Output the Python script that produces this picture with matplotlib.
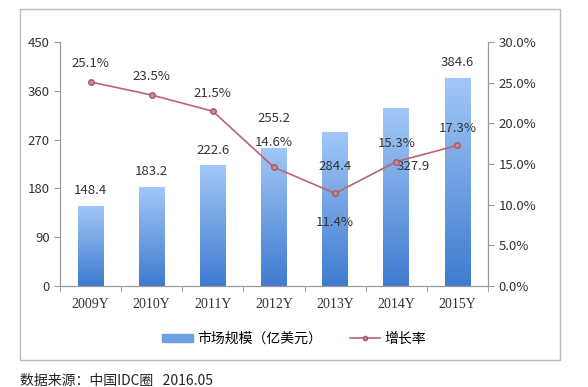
import numpy as np
import matplotlib.pyplot as plt
from matplotlib.patches import Rectangle
from matplotlib.lines import Line2D
from matplotlib.colors import LinearSegmentedColormap

plt.rcParams["font.family"] = ["Noto Sans CJK SC", "DejaVu Sans"]

years = ["2009Y", "2010Y", "2011Y", "2012Y", "2013Y", "2014Y", "2015Y"]
market = [148.4, 183.2, 222.6, 255.2, 284.4, 327.9, 384.6]
growth = [25.1, 23.5, 21.5, 14.6, 11.4, 15.3, 17.3]

# ラベルのずらし量 (points)
bar_lab_off = [(0, 11), (0, 11), (0, 11), (0, 21), (0, -25), (12, -42), (0, 11)]
pct_lab_off = [(0, 13.5), (0, 13), (0, 13), (0, 18), (0, -21), (0, 13), (0, 12)]

fig = plt.figure(figsize=(5.88, 3.87), dpi=100)
ax = fig.add_axes([0.102, 0.261, 0.728, 0.630])
ax2 = ax.twinx()

x = np.arange(len(years))
bars = ax.bar(x, market, width=0.42, color="none", zorder=2)

cmap = LinearSegmentedColormap.from_list("g", ["#3f7bd0", "#a3c8f7"])
grad = np.linspace(0, 1, 256).reshape(-1, 1)
for b in bars:
    bx, by = b.get_x(), b.get_y()
    im = ax.imshow(grad, cmap=cmap, origin="lower", aspect="auto",
                   extent=[bx, bx + b.get_width(), by, by + b.get_height()], zorder=2)
    im.set_clip_path(b)

ax.set_xlim(-0.5, len(years) - 0.5)
ax.set_ylim(0, 450)
ax.set_yticks([0, 90, 180, 270, 360, 450])
ax.set_xticks(x)
ax.set_xticklabels(years, family="Liberation Serif", fontsize=10, color="#333333")
ax.set_xticks(np.arange(len(years) + 1) - 0.5, minor=True)
ax.tick_params(axis="x", which="major", length=0, pad=9)
ax.tick_params(axis="x", which="minor", length=4, color="#999999")
ax.tick_params(axis="y", labelsize=9.5, length=4, color="#999999", labelcolor="#333333")

ax2.plot(x, growth, color="#b86670", lw=1.2, marker="o", ms=4,
         mfc="#c98a92", mec="#a85a64", zorder=3)
ax2.set_ylim(0, 30)
ax2.set_yticks([0, 5, 10, 15, 20, 25, 30])
ax2.set_yticklabels([f"{v:.1f}%" for v in [0, 5, 10, 15, 20, 25, 30]])
ax2.tick_params(axis="y", labelsize=9.5, length=4, color="#999999", labelcolor="#333333")

for a in (ax, ax2):
    a.spines["top"].set_visible(False)
    for s in ["left", "right", "bottom"]:
        a.spines[s].set_color("#999999")

for i, v in enumerate(market):
    ax.annotate(f"{v:.1f}", (x[i], v), xytext=bar_lab_off[i], textcoords="offset points",
                ha="center", va="center", fontsize=9.5, color="#333333", zorder=5)
for i, v in enumerate(growth):
    ax2.annotate(f"{v:.1f}%", (x[i], v), xytext=pct_lab_off[i], textcoords="offset points",
                 ha="center", va="center", fontsize=9.5, color="#333333", zorder=5)

# 凡例
h1 = Rectangle((0, 0), 1, 1, color="#6c9fe3")
h2 = Line2D([], [], color="#b86670", lw=1.2, marker="o", ms=3, mfc="#c98a92", mec="#a85a64")
fig.legend([h1, h2], ["市场规模（亿美元）", "增长率"], loc="center", bbox_to_anchor=(0.5, 0.125),
           ncol=2, frameon=False, fontsize=10, handlelength=2.2, handleheight=0.5,
           columnspacing=2.0, handletextpad=0.3)

# 外枠
fig.patches.append(Rectangle((20 / 588, 1 - 360 / 387), 540 / 588, 351 / 387,
                             transform=fig.transFigure, fill=False, ec="#bbbbbb", lw=1))

fig.text(20 / 588, 1 - 381 / 387, "数据来源：中国IDC圈   2016.05", fontsize=10,
         color="#222222", va="center")

plt.savefig("out.png", dpi=100)
